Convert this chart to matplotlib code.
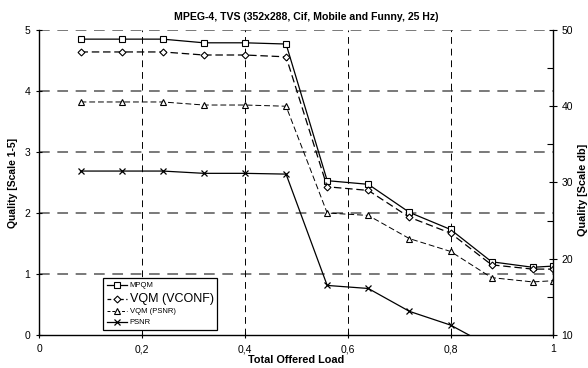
import matplotlib.pyplot as plt
from matplotlib.lines import Line2D
from matplotlib.ticker import MultipleLocator, FixedLocator

plt.rcParams['font.family'] = ['Liberation Sans', 'DejaVu Sans']

# Data
load = [0.08, 0.16, 0.24, 0.32, 0.40, 0.48, 0.56, 0.64, 0.72, 0.80, 0.88, 0.96, 1.0]
mpqm = [4.85, 4.85, 4.85, 4.79, 4.79, 4.77, 2.53, 2.47, 2.01, 1.73, 1.20, 1.11, 1.13]
vqm_vconf = [4.64, 4.64, 4.64, 4.59, 4.59, 4.56, 2.43, 2.37, 1.93, 1.67, 1.15, 1.08, 1.08]
vqm_psnr = [3.82, 3.82, 3.82, 3.77, 3.77, 3.75, 2.00, 1.96, 1.58, 1.37, 0.94, 0.87, 0.89]
psnr = [31.5, 31.5, 31.5, 31.2, 31.2, 31.1, 16.5, 16.1, 13.1, 11.3, 8.4, 7.6, 7.3]

x_ticks = [0, 0.2, 0.4, 0.6, 0.8, 1.0]
x_tick_labels = ['0', '0,2', '0,4', '0,6', '0,8', '1']

fig = plt.figure(figsize=(5.88, 3.68), dpi=100)
ax = fig.add_axes([0.067, 0.0897, 0.874, 0.8288])
ax2 = ax.twinx()

ax.plot(load, mpqm, color='black', lw=0.9, marker='s', ms=5, mfc='white', mec='black', mew=0.8, label='MPQM')
ax.plot(load, vqm_vconf, color='black', lw=0.9, ls=(0, (6, 3)), marker='D', ms=3.5, mfc='white', mec='black', mew=0.8, label='VQM (VCONF)')
ax.plot(load, vqm_psnr, color='black', lw=0.7, ls=(0, (6, 3)), marker='^', ms=5, mfc='white', mec='black', mew=0.8, label='VQM (PSNR)')
ax2.plot(load, psnr, color='black', lw=0.9, marker='x', ms=5, mew=0.9, label='PSNR')

ax.set_xlim(0, 1)
ax.set_ylim(0, 5)
ax2.set_ylim(10, 50)

ax.set_xticks(x_ticks)
ax.set_xticklabels(x_tick_labels)
ax.yaxis.set_major_locator(MultipleLocator(1))
ax2.yaxis.set_major_locator(MultipleLocator(10))
ax2.yaxis.set_minor_locator(FixedLocator([15, 25, 35, 45]))

# grid
for yv in [1, 2, 3, 4, 5]:
    ax.axhline(yv, color='#555555', lw=1.1, ls=(0, (7, 5)), zorder=0)
for xv in [0.2, 0.4, 0.6, 0.8]:
    ax.axvline(xv, color='black', lw=0.7, ls=(0, (7, 5)), zorder=0)

for a in (ax, ax2):
    a.spines['top'].set_visible(False)
ax.spines['right'].set_visible(False)
ax2.spines['left'].set_visible(False)
ax2.spines['bottom'].set_visible(False)
for s in ('left', 'bottom'):
    ax.spines[s].set_linewidth(1.0)
ax2.spines['right'].set_linewidth(1.0)

ax.tick_params(axis='both', direction='inout', length=5, width=0.8, labelsize=7.5, pad=4)
ax2.tick_params(axis='y', which='major', direction='inout', length=6, width=0.8, labelsize=7.5, pad=3)
ax2.tick_params(axis='y', which='minor', direction='in', length=4, width=0.8)

ax.set_xlabel('Total Offered Load', fontsize=7.8, fontweight='bold', labelpad=1)
ax.set_ylabel('Quality [Scale 1-5]', fontsize=7.5, fontweight='bold', labelpad=5)
fig.text(0.991, 0.484, 'Quality [Scale db]', rotation=90, fontsize=7.8, fontweight='bold',
         ha='center', va='center')
fig.text(0.52, 0.955, 'MPEG-4, TVS (352x288, Cif, Mobile and Funny, 25 Hz)', fontsize=7.6,
         fontweight='bold', ha='center', va='center')

handles = [
    Line2D([], [], color='black', lw=0.9, marker='s', ms=5, mfc='white', mec='black', mew=0.8),
    Line2D([], [], color='black', lw=0.9, ls=(0, (3, 2)), marker='D', ms=3.5, mfc='white', mec='black', mew=0.8),
    Line2D([], [], color='black', lw=0.7, ls=(0, (3, 2)), marker='^', ms=5, mfc='white', mec='black', mew=0.8),
    Line2D([], [], color='black', lw=0.9, marker='x', ms=5, mew=0.9),
]
labels = ['MPQM', 'VQM (VCONF)', 'VQM (PSNR)', 'PSNR']
leg = ax2.legend(handles, labels, loc='lower left', bbox_to_anchor=(0.175, 0.103),
                 bbox_transform=fig.transFigure, borderaxespad=0, fancybox=False,
                 edgecolor='black', framealpha=1, fontsize=5.5, handlelength=2.6,
                 handletextpad=0.4, labelspacing=0.45, borderpad=0.5)
leg.get_frame().set_linewidth(0.9)
leg.get_texts()[1].set_fontsize(9)

fig.savefig('out.png', dpi=100)
